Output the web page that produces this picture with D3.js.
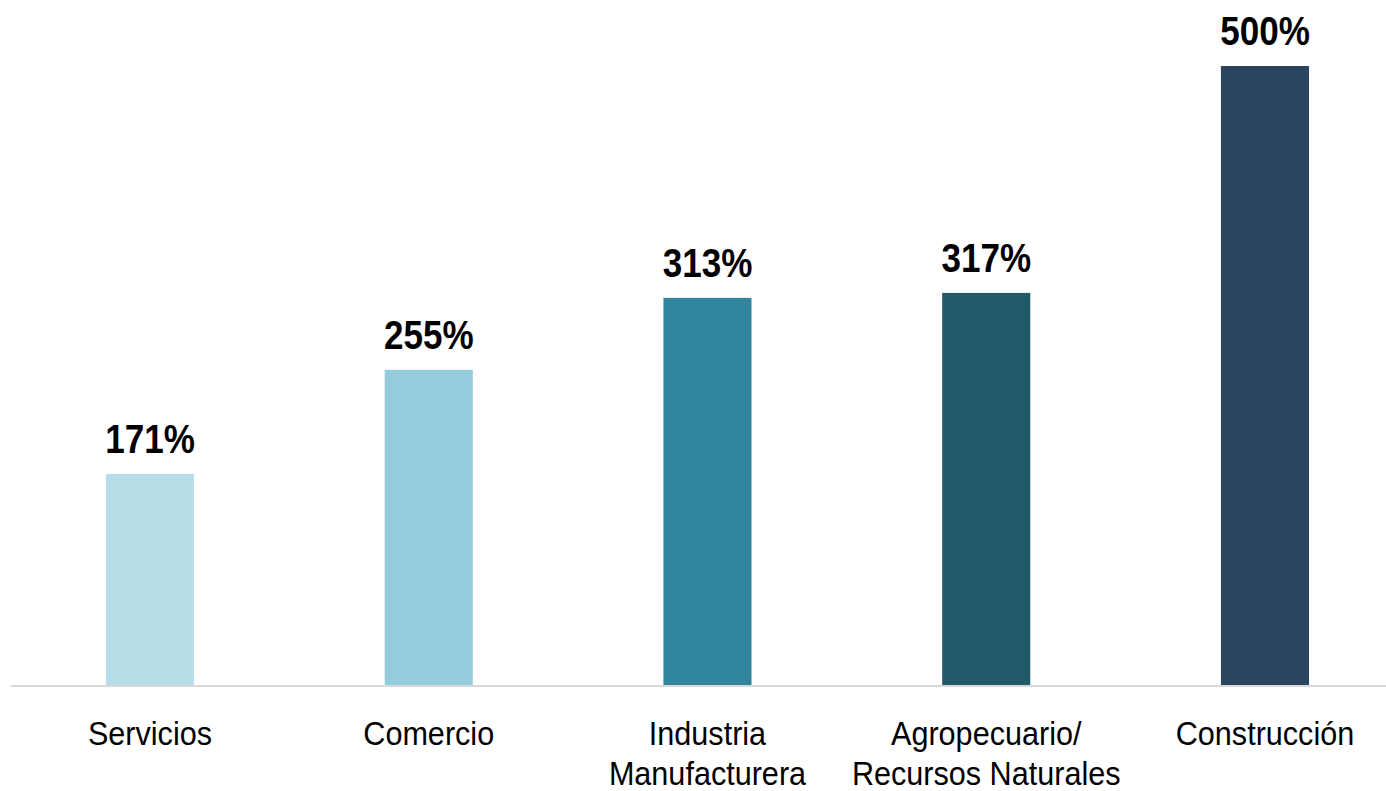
<!DOCTYPE html>
<html>
<head>
<meta charset="utf-8">
<script src="https://cdn.jsdelivr.net/npm/d3@7"></script>
<style>
  body { margin: 0; background: #fff; }
  svg { display: block; }
  text { font-family: "Liberation Sans Narrow", "Arial Narrow", "Liberation Sans", Arial, sans-serif; }
</style>
</head>
<body>
<div class="chart"></div>
<script>
// data
var categories = ["Servicios", "Comercio", "Industria\nManufacturera", "Agropecuario/\nRecursos Naturales", "Construcción"];
var values = [171, 255, 313, 317, 500];
var colors = ["#b6dde8", "#93cddd", "#31859c", "#215a69", "#2b455f"];

var svgWidth = 1386;
var svgHeight = 791;

var svg = d3.select(".chart")
  .append("svg")
  .attr("width", svgWidth)
  .attr("height", svgHeight);

var baseY = 686;

// no narrow font installed, so squeeze the regular one a bit
var valSquash = 0.855;
var catSquash = 0.9;

// x band scale - bars are 88px wide, ~279px apart
var xScale = d3.scaleBand()
  .domain(categories)
  .range([10.6, 10.6 + 5 * 278.75])
  .paddingInner(0.684)
  .paddingOuter(0.342);

var yScale = d3.scaleLinear()
  .domain([0, 500])
  .range([baseY, 66]);

// bars
svg.selectAll("rect.bar")
  .data(values)
  .enter()
  .append("rect")
  .attr("class", "bar")
  .attr("x", (d, i) => xScale(categories[i]))
  .attr("y", d => yScale(d))
  .attr("width", xScale.bandwidth())
  .attr("height", d => yScale(0) - yScale(d))
  .attr("fill", (d, i) => colors[i]);

// baseline
svg.append("line")
  .attr("x1", 11)
  .attr("x2", svgWidth)
  .attr("y1", yScale(0))
  .attr("y2", yScale(0))
  .attr("stroke", "#d9d9d9")
  .attr("stroke-width", 2);

// value labels
svg.selectAll("text.value")
  .data(values)
  .enter()
  .append("text")
  .attr("class", "value")
  .attr("transform", (d, i) => `translate(${xScale(categories[i]) + xScale.bandwidth() / 2}, ${yScale(d) - 21}) scale(${valSquash}, 1)`)
  .attr("text-anchor", "middle")
  .attr("font-size", 41)
  .attr("font-weight", "bold")
  .attr("fill", "#000")
  .text(d => d + "%");

// category labels
var catLabels = svg.selectAll("text.cat")
  .data(categories)
  .enter()
  .append("text")
  .attr("class", "cat")
  .attr("transform", d => `translate(${xScale(d) + xScale.bandwidth() / 2}, 745) scale(${catSquash}, 1)`)
  .attr("text-anchor", "middle")
  .attr("font-size", 34)
  .attr("fill", "#000");

catLabels.each(function (d) {
  var t = d3.select(this);
  d.split("\n").forEach(function (line, j) {
    t.append("tspan")
      .attr("x", 0)
      .attr("dy", j === 0 ? 0 : 40)
      .text(line);
  });
});
</script>
</body>
</html>
